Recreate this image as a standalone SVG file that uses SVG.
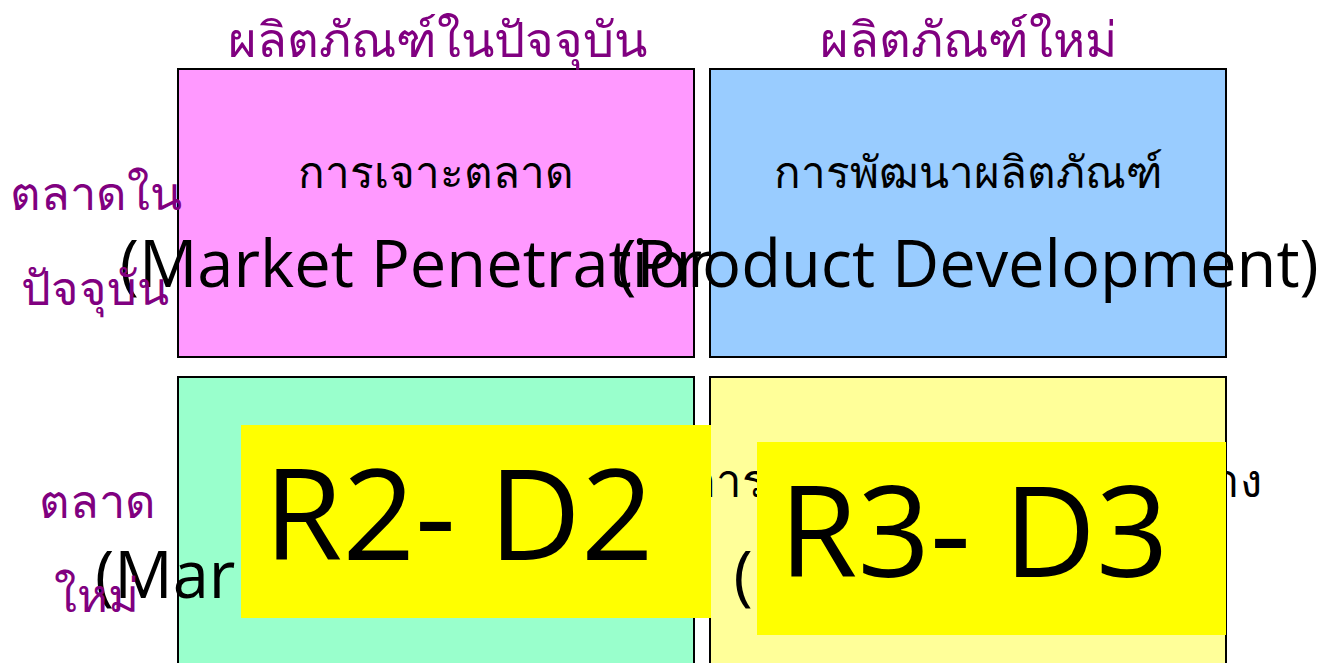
<svg xmlns="http://www.w3.org/2000/svg" width="1330" height="663" viewBox="0 0 1330 663">
<style>
.box{stroke:#000;stroke-width:2}
.hdr{font-family:"Noto Sans","DejaVu Sans",sans-serif;font-size:49px;fill:#800080;text-anchor:middle}
.side{font-family:"Noto Sans","DejaVu Sans",sans-serif;font-size:47px;fill:#800080;text-anchor:middle}
.th{font-family:"Noto Sans","DejaVu Sans",sans-serif;font-size:44px;fill:#000;text-anchor:middle}
.en{font-family:"Open Sans",sans-serif;font-size:65px;fill:#000;text-anchor:middle}
.big{font-family:"Open Sans",sans-serif;font-size:127px;fill:#000}
</style>
<rect width="1330" height="663" fill="#fff"/>
<g id="market-penetration">
<rect class="box" x="178" y="69" width="516" height="288" fill="#FF99FF"/>
<text class="th" x="436" y="188">การเจาะตลาด</text>
<text class="en" x="433" y="287">(Market Penetration)</text>
</g>
<g id="product-development">
<rect class="box" x="710" y="69" width="516" height="288" fill="#99CCFF"/>
<text class="th" x="968" y="188">การพัฒนาผลิตภัณฑ์</text>
<text class="en" x="968" y="287">(Product Development)</text>
</g>
<g id="market-development">
<rect class="box" x="178" y="377" width="516" height="300" fill="#99FFCC"/>
<text class="th" x="436" y="497">การพัฒนาตลาด</text>
<text class="en" x="434" y="598">(Market Development)</text>
</g>
<g id="diversification">
<rect class="box" x="710" y="377" width="516" height="300" fill="#FFFF99"/>
<text class="th" x="975" y="497" style="font-size:45.5px">การขยายตลาดใหม่หลายทาง</text>
<text class="en" x="968" y="598">(Diversification)</text>
</g>
<g id="side-current">
<text class="side" x="96" y="210">ตลาดใน</text>
<text class="side" x="95" y="305">ปัจจุบัน</text>
</g>
<g id="side-new">
<text class="side" x="97" y="518">ตลาด</text>
<text class="side" x="96" y="612">ใหม่</text>
</g>
<g id="r2-d2">
<rect x="241" y="425" width="470" height="193" fill="#FFFF00"/>
<text class="big" x="264" y="560">R2- D2</text>
</g>
<g id="r3-d3">
<rect x="757" y="442" width="469" height="193" fill="#FFFF00"/>
<text class="big" x="779" y="577">R3- D3</text>
</g>
<g id="header-current"><text class="hdr" x="437" y="57">ผลิตภัณฑ์ในปัจจุบัน</text></g>
<g id="header-new"><text class="hdr" x="968" y="57">ผลิตภัณฑ์ใหม่</text></g>
<g id="connectors"></g>
</svg>
